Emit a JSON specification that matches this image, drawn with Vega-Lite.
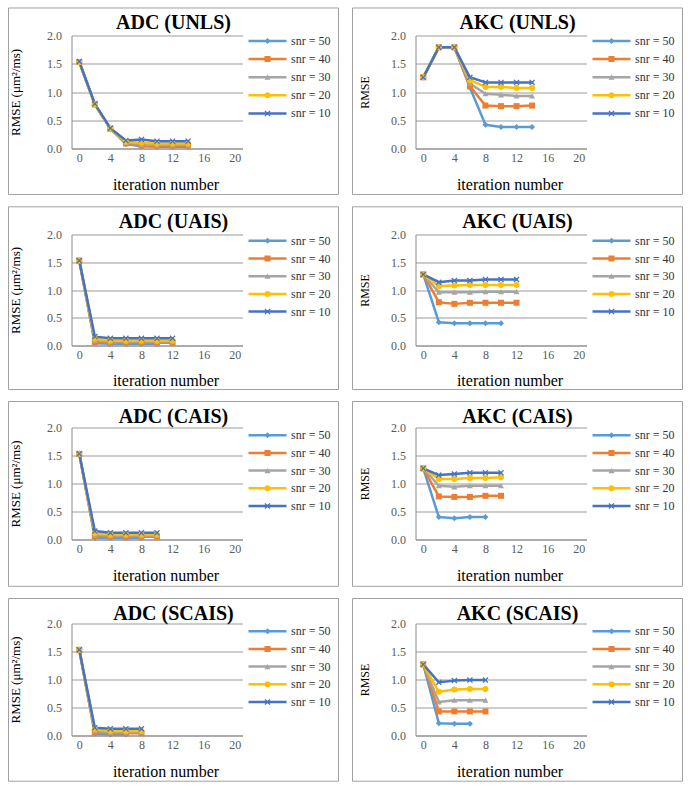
{
"$schema": "https://vega.github.io/schema/vega-lite/v6.json",
"padding": {"left": 7.5, "top": 6.5, "right": 5, "bottom": 5},
"spacing": 10,
"resolve": {"scale": {"color": "independent", "fill": "independent", "shape": "independent", "x": "independent", "y": "independent"}, "legend": {"color": "independent", "fill": "independent", "shape": "independent"}},
"datasets": {"d": [
{"panel":"ADC (UNLS)","snr":"snr = 50","iter":0,"rmse":1.53},{"panel":"ADC (UNLS)","snr":"snr = 50","iter":2,"rmse":0.78},{"panel":"ADC (UNLS)","snr":"snr = 50","iter":4,"rmse":0.35},{"panel":"ADC (UNLS)","snr":"snr = 50","iter":6,"rmse":0.08},{"panel":"ADC (UNLS)","snr":"snr = 50","iter":8,"rmse":0.04},{"panel":"ADC (UNLS)","snr":"snr = 50","iter":10,"rmse":0.03},{"panel":"ADC (UNLS)","snr":"snr = 50","iter":12,"rmse":0.03},{"panel":"ADC (UNLS)","snr":"snr = 50","iter":14,"rmse":0.03},
{"panel":"ADC (UNLS)","snr":"snr = 40","iter":0,"rmse":1.53},{"panel":"ADC (UNLS)","snr":"snr = 40","iter":2,"rmse":0.78},{"panel":"ADC (UNLS)","snr":"snr = 40","iter":4,"rmse":0.35},{"panel":"ADC (UNLS)","snr":"snr = 40","iter":6,"rmse":0.09},{"panel":"ADC (UNLS)","snr":"snr = 40","iter":8,"rmse":0.05},{"panel":"ADC (UNLS)","snr":"snr = 40","iter":10,"rmse":0.05},{"panel":"ADC (UNLS)","snr":"snr = 40","iter":12,"rmse":0.05},{"panel":"ADC (UNLS)","snr":"snr = 40","iter":14,"rmse":0.05},
{"panel":"ADC (UNLS)","snr":"snr = 30","iter":0,"rmse":1.53},{"panel":"ADC (UNLS)","snr":"snr = 30","iter":2,"rmse":0.78},{"panel":"ADC (UNLS)","snr":"snr = 30","iter":4,"rmse":0.35},{"panel":"ADC (UNLS)","snr":"snr = 30","iter":6,"rmse":0.11},{"panel":"ADC (UNLS)","snr":"snr = 30","iter":8,"rmse":0.07},{"panel":"ADC (UNLS)","snr":"snr = 30","iter":10,"rmse":0.06},{"panel":"ADC (UNLS)","snr":"snr = 30","iter":12,"rmse":0.06},{"panel":"ADC (UNLS)","snr":"snr = 30","iter":14,"rmse":0.06},
{"panel":"ADC (UNLS)","snr":"snr = 20","iter":0,"rmse":1.53},{"panel":"ADC (UNLS)","snr":"snr = 20","iter":2,"rmse":0.78},{"panel":"ADC (UNLS)","snr":"snr = 20","iter":4,"rmse":0.35},{"panel":"ADC (UNLS)","snr":"snr = 20","iter":6,"rmse":0.12},{"panel":"ADC (UNLS)","snr":"snr = 20","iter":8,"rmse":0.10},{"panel":"ADC (UNLS)","snr":"snr = 20","iter":10,"rmse":0.09},{"panel":"ADC (UNLS)","snr":"snr = 20","iter":12,"rmse":0.09},{"panel":"ADC (UNLS)","snr":"snr = 20","iter":14,"rmse":0.09},
{"panel":"ADC (UNLS)","snr":"snr = 10","iter":0,"rmse":1.54},{"panel":"ADC (UNLS)","snr":"snr = 10","iter":2,"rmse":0.79},{"panel":"ADC (UNLS)","snr":"snr = 10","iter":4,"rmse":0.36},{"panel":"ADC (UNLS)","snr":"snr = 10","iter":6,"rmse":0.14},{"panel":"ADC (UNLS)","snr":"snr = 10","iter":8,"rmse":0.16},{"panel":"ADC (UNLS)","snr":"snr = 10","iter":10,"rmse":0.13},{"panel":"ADC (UNLS)","snr":"snr = 10","iter":12,"rmse":0.13},{"panel":"ADC (UNLS)","snr":"snr = 10","iter":14,"rmse":0.13},
{"panel":"AKC (UNLS)","snr":"snr = 50","iter":0,"rmse":1.26},{"panel":"AKC (UNLS)","snr":"snr = 50","iter":2,"rmse":1.79},{"panel":"AKC (UNLS)","snr":"snr = 50","iter":4,"rmse":1.79},{"panel":"AKC (UNLS)","snr":"snr = 50","iter":6,"rmse":1.08},{"panel":"AKC (UNLS)","snr":"snr = 50","iter":8,"rmse":0.42},{"panel":"AKC (UNLS)","snr":"snr = 50","iter":10,"rmse":0.38},{"panel":"AKC (UNLS)","snr":"snr = 50","iter":12,"rmse":0.38},{"panel":"AKC (UNLS)","snr":"snr = 50","iter":14,"rmse":0.38},
{"panel":"AKC (UNLS)","snr":"snr = 40","iter":0,"rmse":1.26},{"panel":"AKC (UNLS)","snr":"snr = 40","iter":2,"rmse":1.79},{"panel":"AKC (UNLS)","snr":"snr = 40","iter":4,"rmse":1.79},{"panel":"AKC (UNLS)","snr":"snr = 40","iter":6,"rmse":1.10},{"panel":"AKC (UNLS)","snr":"snr = 40","iter":8,"rmse":0.76},{"panel":"AKC (UNLS)","snr":"snr = 40","iter":10,"rmse":0.75},{"panel":"AKC (UNLS)","snr":"snr = 40","iter":12,"rmse":0.75},{"panel":"AKC (UNLS)","snr":"snr = 40","iter":14,"rmse":0.76},
{"panel":"AKC (UNLS)","snr":"snr = 30","iter":0,"rmse":1.26},{"panel":"AKC (UNLS)","snr":"snr = 30","iter":2,"rmse":1.79},{"panel":"AKC (UNLS)","snr":"snr = 30","iter":4,"rmse":1.79},{"panel":"AKC (UNLS)","snr":"snr = 30","iter":6,"rmse":1.15},{"panel":"AKC (UNLS)","snr":"snr = 30","iter":8,"rmse":0.97},{"panel":"AKC (UNLS)","snr":"snr = 30","iter":10,"rmse":0.95},{"panel":"AKC (UNLS)","snr":"snr = 30","iter":12,"rmse":0.93},{"panel":"AKC (UNLS)","snr":"snr = 30","iter":14,"rmse":0.93},
{"panel":"AKC (UNLS)","snr":"snr = 20","iter":0,"rmse":1.26},{"panel":"AKC (UNLS)","snr":"snr = 20","iter":2,"rmse":1.79},{"panel":"AKC (UNLS)","snr":"snr = 20","iter":4,"rmse":1.79},{"panel":"AKC (UNLS)","snr":"snr = 20","iter":6,"rmse":1.21},{"panel":"AKC (UNLS)","snr":"snr = 20","iter":8,"rmse":1.09},{"panel":"AKC (UNLS)","snr":"snr = 20","iter":10,"rmse":1.09},{"panel":"AKC (UNLS)","snr":"snr = 20","iter":12,"rmse":1.07},{"panel":"AKC (UNLS)","snr":"snr = 20","iter":14,"rmse":1.07},
{"panel":"AKC (UNLS)","snr":"snr = 10","iter":0,"rmse":1.26},{"panel":"AKC (UNLS)","snr":"snr = 10","iter":2,"rmse":1.79},{"panel":"AKC (UNLS)","snr":"snr = 10","iter":4,"rmse":1.79},{"panel":"AKC (UNLS)","snr":"snr = 10","iter":6,"rmse":1.26},{"panel":"AKC (UNLS)","snr":"snr = 10","iter":8,"rmse":1.17},{"panel":"AKC (UNLS)","snr":"snr = 10","iter":10,"rmse":1.17},{"panel":"AKC (UNLS)","snr":"snr = 10","iter":12,"rmse":1.17},{"panel":"AKC (UNLS)","snr":"snr = 10","iter":14,"rmse":1.17},
{"panel":"ADC (UAIS)","snr":"snr = 50","iter":0,"rmse":1.53},{"panel":"ADC (UAIS)","snr":"snr = 50","iter":2,"rmse":0.04},{"panel":"ADC (UAIS)","snr":"snr = 50","iter":4,"rmse":0.03},{"panel":"ADC (UAIS)","snr":"snr = 50","iter":6,"rmse":0.03},{"panel":"ADC (UAIS)","snr":"snr = 50","iter":8,"rmse":0.03},{"panel":"ADC (UAIS)","snr":"snr = 50","iter":10,"rmse":0.03},
{"panel":"ADC (UAIS)","snr":"snr = 40","iter":0,"rmse":1.53},{"panel":"ADC (UAIS)","snr":"snr = 40","iter":2,"rmse":0.06},{"panel":"ADC (UAIS)","snr":"snr = 40","iter":4,"rmse":0.05},{"panel":"ADC (UAIS)","snr":"snr = 40","iter":6,"rmse":0.05},{"panel":"ADC (UAIS)","snr":"snr = 40","iter":8,"rmse":0.05},{"panel":"ADC (UAIS)","snr":"snr = 40","iter":10,"rmse":0.05},{"panel":"ADC (UAIS)","snr":"snr = 40","iter":12,"rmse":0.05},
{"panel":"ADC (UAIS)","snr":"snr = 30","iter":0,"rmse":1.53},{"panel":"ADC (UAIS)","snr":"snr = 30","iter":2,"rmse":0.09},{"panel":"ADC (UAIS)","snr":"snr = 30","iter":4,"rmse":0.07},{"panel":"ADC (UAIS)","snr":"snr = 30","iter":6,"rmse":0.07},{"panel":"ADC (UAIS)","snr":"snr = 30","iter":8,"rmse":0.07},{"panel":"ADC (UAIS)","snr":"snr = 30","iter":10,"rmse":0.07},{"panel":"ADC (UAIS)","snr":"snr = 30","iter":12,"rmse":0.07},
{"panel":"ADC (UAIS)","snr":"snr = 20","iter":0,"rmse":1.53},{"panel":"ADC (UAIS)","snr":"snr = 20","iter":2,"rmse":0.12},{"panel":"ADC (UAIS)","snr":"snr = 20","iter":4,"rmse":0.09},{"panel":"ADC (UAIS)","snr":"snr = 20","iter":6,"rmse":0.09},{"panel":"ADC (UAIS)","snr":"snr = 20","iter":8,"rmse":0.09},{"panel":"ADC (UAIS)","snr":"snr = 20","iter":10,"rmse":0.09},{"panel":"ADC (UAIS)","snr":"snr = 20","iter":12,"rmse":0.09},
{"panel":"ADC (UAIS)","snr":"snr = 10","iter":0,"rmse":1.53},{"panel":"ADC (UAIS)","snr":"snr = 10","iter":2,"rmse":0.16},{"panel":"ADC (UAIS)","snr":"snr = 10","iter":4,"rmse":0.13},{"panel":"ADC (UAIS)","snr":"snr = 10","iter":6,"rmse":0.13},{"panel":"ADC (UAIS)","snr":"snr = 10","iter":8,"rmse":0.13},{"panel":"ADC (UAIS)","snr":"snr = 10","iter":10,"rmse":0.13},{"panel":"ADC (UAIS)","snr":"snr = 10","iter":12,"rmse":0.13},
{"panel":"AKC (UAIS)","snr":"snr = 50","iter":0,"rmse":1.28},{"panel":"AKC (UAIS)","snr":"snr = 50","iter":2,"rmse":0.42},{"panel":"AKC (UAIS)","snr":"snr = 50","iter":4,"rmse":0.40},{"panel":"AKC (UAIS)","snr":"snr = 50","iter":6,"rmse":0.40},{"panel":"AKC (UAIS)","snr":"snr = 50","iter":8,"rmse":0.40},{"panel":"AKC (UAIS)","snr":"snr = 50","iter":10,"rmse":0.40},
{"panel":"AKC (UAIS)","snr":"snr = 40","iter":0,"rmse":1.28},{"panel":"AKC (UAIS)","snr":"snr = 40","iter":2,"rmse":0.78},{"panel":"AKC (UAIS)","snr":"snr = 40","iter":4,"rmse":0.75},{"panel":"AKC (UAIS)","snr":"snr = 40","iter":6,"rmse":0.77},{"panel":"AKC (UAIS)","snr":"snr = 40","iter":8,"rmse":0.77},{"panel":"AKC (UAIS)","snr":"snr = 40","iter":10,"rmse":0.77},{"panel":"AKC (UAIS)","snr":"snr = 40","iter":12,"rmse":0.77},
{"panel":"AKC (UAIS)","snr":"snr = 30","iter":0,"rmse":1.28},{"panel":"AKC (UAIS)","snr":"snr = 30","iter":2,"rmse":0.96},{"panel":"AKC (UAIS)","snr":"snr = 30","iter":4,"rmse":0.96},{"panel":"AKC (UAIS)","snr":"snr = 30","iter":6,"rmse":0.96},{"panel":"AKC (UAIS)","snr":"snr = 30","iter":8,"rmse":0.97},{"panel":"AKC (UAIS)","snr":"snr = 30","iter":10,"rmse":0.97},{"panel":"AKC (UAIS)","snr":"snr = 30","iter":12,"rmse":0.97},
{"panel":"AKC (UAIS)","snr":"snr = 20","iter":0,"rmse":1.28},{"panel":"AKC (UAIS)","snr":"snr = 20","iter":2,"rmse":1.07},{"panel":"AKC (UAIS)","snr":"snr = 20","iter":4,"rmse":1.08},{"panel":"AKC (UAIS)","snr":"snr = 20","iter":6,"rmse":1.09},{"panel":"AKC (UAIS)","snr":"snr = 20","iter":8,"rmse":1.09},{"panel":"AKC (UAIS)","snr":"snr = 20","iter":10,"rmse":1.09},{"panel":"AKC (UAIS)","snr":"snr = 20","iter":12,"rmse":1.09},
{"panel":"AKC (UAIS)","snr":"snr = 10","iter":0,"rmse":1.28},{"panel":"AKC (UAIS)","snr":"snr = 10","iter":2,"rmse":1.14},{"panel":"AKC (UAIS)","snr":"snr = 10","iter":4,"rmse":1.17},{"panel":"AKC (UAIS)","snr":"snr = 10","iter":6,"rmse":1.17},{"panel":"AKC (UAIS)","snr":"snr = 10","iter":8,"rmse":1.19},{"panel":"AKC (UAIS)","snr":"snr = 10","iter":10,"rmse":1.19},{"panel":"AKC (UAIS)","snr":"snr = 10","iter":12,"rmse":1.19},
{"panel":"ADC (CAIS)","snr":"snr = 50","iter":0,"rmse":1.53},{"panel":"ADC (CAIS)","snr":"snr = 50","iter":2,"rmse":0.03},{"panel":"ADC (CAIS)","snr":"snr = 50","iter":4,"rmse":0.03},{"panel":"ADC (CAIS)","snr":"snr = 50","iter":6,"rmse":0.03},{"panel":"ADC (CAIS)","snr":"snr = 50","iter":8,"rmse":0.03},
{"panel":"ADC (CAIS)","snr":"snr = 40","iter":0,"rmse":1.53},{"panel":"ADC (CAIS)","snr":"snr = 40","iter":2,"rmse":0.06},{"panel":"ADC (CAIS)","snr":"snr = 40","iter":4,"rmse":0.05},{"panel":"ADC (CAIS)","snr":"snr = 40","iter":6,"rmse":0.05},{"panel":"ADC (CAIS)","snr":"snr = 40","iter":8,"rmse":0.05},{"panel":"ADC (CAIS)","snr":"snr = 40","iter":10,"rmse":0.05},
{"panel":"ADC (CAIS)","snr":"snr = 30","iter":0,"rmse":1.53},{"panel":"ADC (CAIS)","snr":"snr = 30","iter":2,"rmse":0.08},{"panel":"ADC (CAIS)","snr":"snr = 30","iter":4,"rmse":0.07},{"panel":"ADC (CAIS)","snr":"snr = 30","iter":6,"rmse":0.07},{"panel":"ADC (CAIS)","snr":"snr = 30","iter":8,"rmse":0.07},{"panel":"ADC (CAIS)","snr":"snr = 30","iter":10,"rmse":0.07},
{"panel":"ADC (CAIS)","snr":"snr = 20","iter":0,"rmse":1.53},{"panel":"ADC (CAIS)","snr":"snr = 20","iter":2,"rmse":0.11},{"panel":"ADC (CAIS)","snr":"snr = 20","iter":4,"rmse":0.09},{"panel":"ADC (CAIS)","snr":"snr = 20","iter":6,"rmse":0.09},{"panel":"ADC (CAIS)","snr":"snr = 20","iter":8,"rmse":0.09},{"panel":"ADC (CAIS)","snr":"snr = 20","iter":10,"rmse":0.09},
{"panel":"ADC (CAIS)","snr":"snr = 10","iter":0,"rmse":1.53},{"panel":"ADC (CAIS)","snr":"snr = 10","iter":2,"rmse":0.15},{"panel":"ADC (CAIS)","snr":"snr = 10","iter":4,"rmse":0.12},{"panel":"ADC (CAIS)","snr":"snr = 10","iter":6,"rmse":0.12},{"panel":"ADC (CAIS)","snr":"snr = 10","iter":8,"rmse":0.12},{"panel":"ADC (CAIS)","snr":"snr = 10","iter":10,"rmse":0.12},
{"panel":"AKC (CAIS)","snr":"snr = 50","iter":0,"rmse":1.27},{"panel":"AKC (CAIS)","snr":"snr = 50","iter":2,"rmse":0.40},{"panel":"AKC (CAIS)","snr":"snr = 50","iter":4,"rmse":0.38},{"panel":"AKC (CAIS)","snr":"snr = 50","iter":6,"rmse":0.40},{"panel":"AKC (CAIS)","snr":"snr = 50","iter":8,"rmse":0.40},
{"panel":"AKC (CAIS)","snr":"snr = 40","iter":0,"rmse":1.27},{"panel":"AKC (CAIS)","snr":"snr = 40","iter":2,"rmse":0.77},{"panel":"AKC (CAIS)","snr":"snr = 40","iter":4,"rmse":0.76},{"panel":"AKC (CAIS)","snr":"snr = 40","iter":6,"rmse":0.76},{"panel":"AKC (CAIS)","snr":"snr = 40","iter":8,"rmse":0.78},{"panel":"AKC (CAIS)","snr":"snr = 40","iter":10,"rmse":0.78},
{"panel":"AKC (CAIS)","snr":"snr = 30","iter":0,"rmse":1.27},{"panel":"AKC (CAIS)","snr":"snr = 30","iter":2,"rmse":0.96},{"panel":"AKC (CAIS)","snr":"snr = 30","iter":4,"rmse":0.94},{"panel":"AKC (CAIS)","snr":"snr = 30","iter":6,"rmse":0.96},{"panel":"AKC (CAIS)","snr":"snr = 30","iter":8,"rmse":0.96},{"panel":"AKC (CAIS)","snr":"snr = 30","iter":10,"rmse":0.96},
{"panel":"AKC (CAIS)","snr":"snr = 20","iter":0,"rmse":1.27},{"panel":"AKC (CAIS)","snr":"snr = 20","iter":2,"rmse":1.08},{"panel":"AKC (CAIS)","snr":"snr = 20","iter":4,"rmse":1.08},{"panel":"AKC (CAIS)","snr":"snr = 20","iter":6,"rmse":1.10},{"panel":"AKC (CAIS)","snr":"snr = 20","iter":8,"rmse":1.10},{"panel":"AKC (CAIS)","snr":"snr = 20","iter":10,"rmse":1.11},
{"panel":"AKC (CAIS)","snr":"snr = 10","iter":0,"rmse":1.27},{"panel":"AKC (CAIS)","snr":"snr = 10","iter":2,"rmse":1.15},{"panel":"AKC (CAIS)","snr":"snr = 10","iter":4,"rmse":1.17},{"panel":"AKC (CAIS)","snr":"snr = 10","iter":6,"rmse":1.19},{"panel":"AKC (CAIS)","snr":"snr = 10","iter":8,"rmse":1.19},{"panel":"AKC (CAIS)","snr":"snr = 10","iter":10,"rmse":1.19},
{"panel":"ADC (SCAIS)","snr":"snr = 50","iter":0,"rmse":1.53},{"panel":"ADC (SCAIS)","snr":"snr = 50","iter":2,"rmse":0.03},{"panel":"ADC (SCAIS)","snr":"snr = 50","iter":4,"rmse":0.02},{"panel":"ADC (SCAIS)","snr":"snr = 50","iter":6,"rmse":0.02},
{"panel":"ADC (SCAIS)","snr":"snr = 40","iter":0,"rmse":1.53},{"panel":"ADC (SCAIS)","snr":"snr = 40","iter":2,"rmse":0.05},{"panel":"ADC (SCAIS)","snr":"snr = 40","iter":4,"rmse":0.04},{"panel":"ADC (SCAIS)","snr":"snr = 40","iter":6,"rmse":0.04},{"panel":"ADC (SCAIS)","snr":"snr = 40","iter":8,"rmse":0.04},
{"panel":"ADC (SCAIS)","snr":"snr = 30","iter":0,"rmse":1.53},{"panel":"ADC (SCAIS)","snr":"snr = 30","iter":2,"rmse":0.08},{"panel":"ADC (SCAIS)","snr":"snr = 30","iter":4,"rmse":0.06},{"panel":"ADC (SCAIS)","snr":"snr = 30","iter":6,"rmse":0.06},{"panel":"ADC (SCAIS)","snr":"snr = 30","iter":8,"rmse":0.06},
{"panel":"ADC (SCAIS)","snr":"snr = 20","iter":0,"rmse":1.53},{"panel":"ADC (SCAIS)","snr":"snr = 20","iter":2,"rmse":0.11},{"panel":"ADC (SCAIS)","snr":"snr = 20","iter":4,"rmse":0.08},{"panel":"ADC (SCAIS)","snr":"snr = 20","iter":6,"rmse":0.08},{"panel":"ADC (SCAIS)","snr":"snr = 20","iter":8,"rmse":0.08},
{"panel":"ADC (SCAIS)","snr":"snr = 10","iter":0,"rmse":1.53},{"panel":"ADC (SCAIS)","snr":"snr = 10","iter":2,"rmse":0.14},{"panel":"ADC (SCAIS)","snr":"snr = 10","iter":4,"rmse":0.12},{"panel":"ADC (SCAIS)","snr":"snr = 10","iter":6,"rmse":0.12},{"panel":"ADC (SCAIS)","snr":"snr = 10","iter":8,"rmse":0.12},
{"panel":"AKC (SCAIS)","snr":"snr = 50","iter":0,"rmse":1.27},{"panel":"AKC (SCAIS)","snr":"snr = 50","iter":2,"rmse":0.22},{"panel":"AKC (SCAIS)","snr":"snr = 50","iter":4,"rmse":0.21},{"panel":"AKC (SCAIS)","snr":"snr = 50","iter":6,"rmse":0.21},
{"panel":"AKC (SCAIS)","snr":"snr = 40","iter":0,"rmse":1.27},{"panel":"AKC (SCAIS)","snr":"snr = 40","iter":2,"rmse":0.43},{"panel":"AKC (SCAIS)","snr":"snr = 40","iter":4,"rmse":0.43},{"panel":"AKC (SCAIS)","snr":"snr = 40","iter":6,"rmse":0.43},{"panel":"AKC (SCAIS)","snr":"snr = 40","iter":8,"rmse":0.43},
{"panel":"AKC (SCAIS)","snr":"snr = 30","iter":0,"rmse":1.27},{"panel":"AKC (SCAIS)","snr":"snr = 30","iter":2,"rmse":0.60},{"panel":"AKC (SCAIS)","snr":"snr = 30","iter":4,"rmse":0.63},{"panel":"AKC (SCAIS)","snr":"snr = 30","iter":6,"rmse":0.63},{"panel":"AKC (SCAIS)","snr":"snr = 30","iter":8,"rmse":0.63},
{"panel":"AKC (SCAIS)","snr":"snr = 20","iter":0,"rmse":1.27},{"panel":"AKC (SCAIS)","snr":"snr = 20","iter":2,"rmse":0.78},{"panel":"AKC (SCAIS)","snr":"snr = 20","iter":4,"rmse":0.82},{"panel":"AKC (SCAIS)","snr":"snr = 20","iter":6,"rmse":0.83},{"panel":"AKC (SCAIS)","snr":"snr = 20","iter":8,"rmse":0.83},
{"panel":"AKC (SCAIS)","snr":"snr = 10","iter":0,"rmse":1.27},{"panel":"AKC (SCAIS)","snr":"snr = 10","iter":2,"rmse":0.95},{"panel":"AKC (SCAIS)","snr":"snr = 10","iter":4,"rmse":0.98},{"panel":"AKC (SCAIS)","snr":"snr = 10","iter":6,"rmse":0.99},{"panel":"AKC (SCAIS)","snr":"snr = 10","iter":8,"rmse":0.99}
]},
"vconcat": [
{"spacing": 12, "resolve": {"scale": {"color": "independent", "fill": "independent", "shape": "independent", "x": "independent", "y": "independent"}, "legend": {"color": "independent", "fill": "independent", "shape": "independent"}},
 "hconcat": [
 {"width": 171, "height": 113, "title": {"text": "ADC (UNLS)", "frame": "bounds", "anchor": "middle", "offset": -26},
  "layer": [
   {"data": {"values": [{}]}, "mark": {"type": "rect", "clip": false, "fill": "transparent", "stroke": "#a0a0a0", "strokeWidth": 1},
    "encoding": {"x": {"datum": -9.105, "type": "quantitative", "scale": {"domain": [-1, 21], "nice": false, "zero": false}, "axis": {"title": "iteration number", "values": [0,4,8,12,16,20], "titleX": 94, "titleY": 36}}, "x2": {"datum": 33.35},
     "y": {"datum": 2.487, "type": "quantitative", "scale": {"domain": [0, 2], "nice": false, "zero": false}, "axis": {"title": "RMSE  (μm²/ms)", "values": [0,0.5,1,1.5,2], "titleX": -56, "titleY": 56.5, "titleFontSize": 13}}, "y2": {"datum": -0.814}}},
   {"data": {"name": "d"}, "transform": [{"filter": "datum.panel === 'ADC (UNLS)'"}], "mark": {"type": "line", "strokeWidth": 2.5, "strokeJoin": "round", "strokeCap": "round"},
    "encoding": {"x": {"field": "iter", "type": "quantitative", "scale": {"domain": [-1, 21], "nice": false, "zero": false}, "axis": {"title": "iteration number", "values": [0,4,8,12,16,20], "titleX": 94, "titleY": 36}},
     "y": {"field": "rmse", "type": "quantitative", "scale": {"domain": [0, 2], "nice": false, "zero": false}, "axis": {"title": "RMSE  (μm²/ms)", "values": [0,0.5,1,1.5,2], "titleX": -56, "titleY": 56.5, "titleFontSize": 13}},
     "color": {"field": "snr", "type": "nominal", "scale": {"domain": ["snr = 50","snr = 40","snr = 30","snr = 20","snr = 10"], "range": ["#5B9BD5","#ED7D31","#A5A5A5","#FFC000","#4472C4"]},
      "legend": {"title": null, "orient": "none", "legendX": 175.5, "legendY": -1.5, "clipHeight": 14, "rowPadding": 4.1, "labelOffset": 3, "padding": 0, "symbolType": "stroke", "symbolSize": 1444, "symbolStrokeWidth": 2.5}}}},
   {"data": {"name": "d"}, "transform": [{"filter": "datum.panel === 'ADC (UNLS)'"}, {"calculate": "datum.snr", "as": "marker"}], "mark": {"type": "point", "filled": true, "size": 36, "opacity": 1},
    "encoding": {"x": {"field": "iter", "type": "quantitative", "scale": {"domain": [-1, 21], "nice": false, "zero": false}, "axis": {"title": "iteration number", "values": [0,4,8,12,16,20], "titleX": 94, "titleY": 36}},
     "y": {"field": "rmse", "type": "quantitative", "scale": {"domain": [0, 2], "nice": false, "zero": false}, "axis": {"title": "RMSE  (μm²/ms)", "values": [0,0.5,1,1.5,2], "titleX": -56, "titleY": 56.5, "titleFontSize": 13}},
     "fill": {"field": "marker", "type": "nominal", "sort": "descending", "scale": {"range": ["#5B9BD5","#ED7D31","#A5A5A5","#FFC000","#4472C4"]},
      "legend": {"title": null, "orient": "none", "legendX": 175.5, "legendY": -1.5, "clipHeight": 14, "rowPadding": 4.1, "padding": 0, "symbolSize": 36, "symbolOffset": 14.5, "symbolStrokeWidth": 0, "labelExpr": "''"}},
     "shape": {"field": "marker", "type": "nominal", "sort": "descending", "scale": {"range": ["diamond","square","triangle-up","circle","M-1,-0.7L-0.7,-1L0,-0.3L0.7,-1L1,-0.7L0.3,0L1,0.7L0.7,1L0,0.3L-0.7,1L-1,0.7L-0.3,0Z"]},
      "legend": {"title": null, "orient": "none", "legendX": 175.5, "legendY": -1.5, "clipHeight": 14, "rowPadding": 4.1, "padding": 0, "symbolSize": 36, "symbolOffset": 14.5, "symbolStrokeWidth": 0, "labelExpr": "''"}}}}
  ]},
 {"width": 171, "height": 113, "title": {"text": "AKC (UNLS)", "frame": "bounds", "anchor": "middle", "offset": -26},
  "layer": [
   {"data": {"values": [{}]}, "mark": {"type": "rect", "clip": false, "fill": "transparent", "stroke": "#a0a0a0", "strokeWidth": 1},
    "encoding": {"x": {"datum": -9.105, "type": "quantitative", "scale": {"domain": [-1, 21], "nice": false, "zero": false}, "axis": {"title": "iteration number", "values": [0,4,8,12,16,20], "titleX": 94, "titleY": 36}}, "x2": {"datum": 33.35},
     "y": {"datum": 2.487, "type": "quantitative", "scale": {"domain": [0, 2], "nice": false, "zero": false}, "axis": {"title": "RMSE", "values": [0,0.5,1,1.5,2], "titleX": -51, "titleY": 56.5}}, "y2": {"datum": -0.814}}},
   {"data": {"name": "d"}, "transform": [{"filter": "datum.panel === 'AKC (UNLS)'"}], "mark": {"type": "line", "strokeWidth": 2.5, "strokeJoin": "round", "strokeCap": "round"},
    "encoding": {"x": {"field": "iter", "type": "quantitative", "scale": {"domain": [-1, 21], "nice": false, "zero": false}, "axis": {"title": "iteration number", "values": [0,4,8,12,16,20], "titleX": 94, "titleY": 36}},
     "y": {"field": "rmse", "type": "quantitative", "scale": {"domain": [0, 2], "nice": false, "zero": false}, "axis": {"title": "RMSE", "values": [0,0.5,1,1.5,2], "titleX": -51, "titleY": 56.5}},
     "color": {"field": "snr", "type": "nominal", "scale": {"domain": ["snr = 50","snr = 40","snr = 30","snr = 20","snr = 10"], "range": ["#5B9BD5","#ED7D31","#A5A5A5","#FFC000","#4472C4"]},
      "legend": {"title": null, "orient": "none", "legendX": 175.5, "legendY": -1.5, "clipHeight": 14, "rowPadding": 4.1, "labelOffset": 3, "padding": 0, "symbolType": "stroke", "symbolSize": 1444, "symbolStrokeWidth": 2.5}}}},
   {"data": {"name": "d"}, "transform": [{"filter": "datum.panel === 'AKC (UNLS)'"}, {"calculate": "datum.snr", "as": "marker"}], "mark": {"type": "point", "filled": true, "size": 36, "opacity": 1},
    "encoding": {"x": {"field": "iter", "type": "quantitative", "scale": {"domain": [-1, 21], "nice": false, "zero": false}, "axis": {"title": "iteration number", "values": [0,4,8,12,16,20], "titleX": 94, "titleY": 36}},
     "y": {"field": "rmse", "type": "quantitative", "scale": {"domain": [0, 2], "nice": false, "zero": false}, "axis": {"title": "RMSE", "values": [0,0.5,1,1.5,2], "titleX": -51, "titleY": 56.5}},
     "fill": {"field": "marker", "type": "nominal", "sort": "descending", "scale": {"range": ["#5B9BD5","#ED7D31","#A5A5A5","#FFC000","#4472C4"]},
      "legend": {"title": null, "orient": "none", "legendX": 175.5, "legendY": -1.5, "clipHeight": 14, "rowPadding": 4.1, "padding": 0, "symbolSize": 36, "symbolOffset": 14.5, "symbolStrokeWidth": 0, "labelExpr": "''"}},
     "shape": {"field": "marker", "type": "nominal", "sort": "descending", "scale": {"range": ["diamond","square","triangle-up","circle","M-1,-0.7L-0.7,-1L0,-0.3L0.7,-1L1,-0.7L0.3,0L1,0.7L0.7,1L0,0.3L-0.7,1L-1,0.7L-0.3,0Z"]},
      "legend": {"title": null, "orient": "none", "legendX": 175.5, "legendY": -1.5, "clipHeight": 14, "rowPadding": 4.1, "padding": 0, "symbolSize": 36, "symbolOffset": 14.5, "symbolStrokeWidth": 0, "labelExpr": "''"}}}}
  ]}
 ]},
{"spacing": 12, "resolve": {"scale": {"color": "independent", "fill": "independent", "shape": "independent", "x": "independent", "y": "independent"}, "legend": {"color": "independent", "fill": "independent", "shape": "independent"}},
 "hconcat": [
 {"width": 171, "height": 111, "title": {"text": "ADC (UAIS)", "frame": "bounds", "anchor": "middle", "offset": -26},
  "layer": [
   {"data": {"values": [{}]}, "mark": {"type": "rect", "clip": false, "fill": "transparent", "stroke": "#a0a0a0", "strokeWidth": 1},
    "encoding": {"x": {"datum": -9.105, "type": "quantitative", "scale": {"domain": [-1, 21], "nice": false, "zero": false}, "axis": {"title": "iteration number", "values": [0,4,8,12,16,20], "titleX": 94, "titleY": 35}}, "x2": {"datum": 33.35},
     "y": {"datum": 2.499, "type": "quantitative", "scale": {"domain": [0, 2], "nice": false, "zero": false}, "axis": {"title": "RMSE (μm²/ms)", "values": [0,0.5,1,1.5,2], "titleX": -56, "titleY": 55.5, "titleFontSize": 13}}, "y2": {"datum": -0.793}}},
   {"data": {"name": "d"}, "transform": [{"filter": "datum.panel === 'ADC (UAIS)'"}], "mark": {"type": "line", "strokeWidth": 2.5, "strokeJoin": "round", "strokeCap": "round"},
    "encoding": {"x": {"field": "iter", "type": "quantitative", "scale": {"domain": [-1, 21], "nice": false, "zero": false}, "axis": {"title": "iteration number", "values": [0,4,8,12,16,20], "titleX": 94, "titleY": 35}},
     "y": {"field": "rmse", "type": "quantitative", "scale": {"domain": [0, 2], "nice": false, "zero": false}, "axis": {"title": "RMSE (μm²/ms)", "values": [0,0.5,1,1.5,2], "titleX": -56, "titleY": 55.5, "titleFontSize": 13}},
     "color": {"field": "snr", "type": "nominal", "scale": {"domain": ["snr = 50","snr = 40","snr = 30","snr = 20","snr = 10"], "range": ["#5B9BD5","#ED7D31","#A5A5A5","#FFC000","#4472C4"]},
      "legend": {"title": null, "orient": "none", "legendX": 175.5, "legendY": -0.7, "clipHeight": 14, "rowPadding": 3.7, "labelOffset": 3, "padding": 0, "symbolType": "stroke", "symbolSize": 1444, "symbolStrokeWidth": 2.5}}}},
   {"data": {"name": "d"}, "transform": [{"filter": "datum.panel === 'ADC (UAIS)'"}, {"calculate": "datum.snr", "as": "marker"}], "mark": {"type": "point", "filled": true, "size": 36, "opacity": 1},
    "encoding": {"x": {"field": "iter", "type": "quantitative", "scale": {"domain": [-1, 21], "nice": false, "zero": false}, "axis": {"title": "iteration number", "values": [0,4,8,12,16,20], "titleX": 94, "titleY": 35}},
     "y": {"field": "rmse", "type": "quantitative", "scale": {"domain": [0, 2], "nice": false, "zero": false}, "axis": {"title": "RMSE (μm²/ms)", "values": [0,0.5,1,1.5,2], "titleX": -56, "titleY": 55.5, "titleFontSize": 13}},
     "fill": {"field": "marker", "type": "nominal", "sort": "descending", "scale": {"range": ["#5B9BD5","#ED7D31","#A5A5A5","#FFC000","#4472C4"]},
      "legend": {"title": null, "orient": "none", "legendX": 175.5, "legendY": -0.7, "clipHeight": 14, "rowPadding": 3.7, "padding": 0, "symbolSize": 36, "symbolOffset": 14.5, "symbolStrokeWidth": 0, "labelExpr": "''"}},
     "shape": {"field": "marker", "type": "nominal", "sort": "descending", "scale": {"range": ["diamond","square","triangle-up","circle","M-1,-0.7L-0.7,-1L0,-0.3L0.7,-1L1,-0.7L0.3,0L1,0.7L0.7,1L0,0.3L-0.7,1L-1,0.7L-0.3,0Z"]},
      "legend": {"title": null, "orient": "none", "legendX": 175.5, "legendY": -0.7, "clipHeight": 14, "rowPadding": 3.7, "padding": 0, "symbolSize": 36, "symbolOffset": 14.5, "symbolStrokeWidth": 0, "labelExpr": "''"}}}}
  ]},
 {"width": 171, "height": 111, "title": {"text": "AKC (UAIS)", "frame": "bounds", "anchor": "middle", "offset": -26},
  "layer": [
   {"data": {"values": [{}]}, "mark": {"type": "rect", "clip": false, "fill": "transparent", "stroke": "#a0a0a0", "strokeWidth": 1},
    "encoding": {"x": {"datum": -9.105, "type": "quantitative", "scale": {"domain": [-1, 21], "nice": false, "zero": false}, "axis": {"title": "iteration number", "values": [0,4,8,12,16,20], "titleX": 94, "titleY": 35}}, "x2": {"datum": 33.35},
     "y": {"datum": 2.499, "type": "quantitative", "scale": {"domain": [0, 2], "nice": false, "zero": false}, "axis": {"title": "RMSE", "values": [0,0.5,1,1.5,2], "titleX": -51, "titleY": 55.5}}, "y2": {"datum": -0.793}}},
   {"data": {"name": "d"}, "transform": [{"filter": "datum.panel === 'AKC (UAIS)'"}], "mark": {"type": "line", "strokeWidth": 2.5, "strokeJoin": "round", "strokeCap": "round"},
    "encoding": {"x": {"field": "iter", "type": "quantitative", "scale": {"domain": [-1, 21], "nice": false, "zero": false}, "axis": {"title": "iteration number", "values": [0,4,8,12,16,20], "titleX": 94, "titleY": 35}},
     "y": {"field": "rmse", "type": "quantitative", "scale": {"domain": [0, 2], "nice": false, "zero": false}, "axis": {"title": "RMSE", "values": [0,0.5,1,1.5,2], "titleX": -51, "titleY": 55.5}},
     "color": {"field": "snr", "type": "nominal", "scale": {"domain": ["snr = 50","snr = 40","snr = 30","snr = 20","snr = 10"], "range": ["#5B9BD5","#ED7D31","#A5A5A5","#FFC000","#4472C4"]},
      "legend": {"title": null, "orient": "none", "legendX": 175.5, "legendY": -0.7, "clipHeight": 14, "rowPadding": 3.7, "labelOffset": 3, "padding": 0, "symbolType": "stroke", "symbolSize": 1444, "symbolStrokeWidth": 2.5}}}},
   {"data": {"name": "d"}, "transform": [{"filter": "datum.panel === 'AKC (UAIS)'"}, {"calculate": "datum.snr", "as": "marker"}], "mark": {"type": "point", "filled": true, "size": 36, "opacity": 1},
    "encoding": {"x": {"field": "iter", "type": "quantitative", "scale": {"domain": [-1, 21], "nice": false, "zero": false}, "axis": {"title": "iteration number", "values": [0,4,8,12,16,20], "titleX": 94, "titleY": 35}},
     "y": {"field": "rmse", "type": "quantitative", "scale": {"domain": [0, 2], "nice": false, "zero": false}, "axis": {"title": "RMSE", "values": [0,0.5,1,1.5,2], "titleX": -51, "titleY": 55.5}},
     "fill": {"field": "marker", "type": "nominal", "sort": "descending", "scale": {"range": ["#5B9BD5","#ED7D31","#A5A5A5","#FFC000","#4472C4"]},
      "legend": {"title": null, "orient": "none", "legendX": 175.5, "legendY": -0.7, "clipHeight": 14, "rowPadding": 3.7, "padding": 0, "symbolSize": 36, "symbolOffset": 14.5, "symbolStrokeWidth": 0, "labelExpr": "''"}},
     "shape": {"field": "marker", "type": "nominal", "sort": "descending", "scale": {"range": ["diamond","square","triangle-up","circle","M-1,-0.7L-0.7,-1L0,-0.3L0.7,-1L1,-0.7L0.3,0L1,0.7L0.7,1L0,0.3L-0.7,1L-1,0.7L-0.3,0Z"]},
      "legend": {"title": null, "orient": "none", "legendX": 175.5, "legendY": -0.7, "clipHeight": 14, "rowPadding": 3.7, "padding": 0, "symbolSize": 36, "symbolOffset": 14.5, "symbolStrokeWidth": 0, "labelExpr": "''"}}}}
  ]}
 ]},
{"spacing": 12, "resolve": {"scale": {"color": "independent", "fill": "independent", "shape": "independent", "x": "independent", "y": "independent"}, "legend": {"color": "independent", "fill": "independent", "shape": "independent"}},
 "hconcat": [
 {"width": 171, "height": 112, "title": {"text": "ADC (CAIS)", "frame": "bounds", "anchor": "middle", "offset": -26},
  "layer": [
   {"data": {"values": [{}]}, "mark": {"type": "rect", "clip": false, "fill": "transparent", "stroke": "#a0a0a0", "strokeWidth": 1},
    "encoding": {"x": {"datum": -9.105, "type": "quantitative", "scale": {"domain": [-1, 21], "nice": false, "zero": false}, "axis": {"title": "iteration number", "values": [0,4,8,12,16,20], "titleX": 94, "titleY": 36}}, "x2": {"datum": 33.35},
     "y": {"datum": 2.464, "type": "quantitative", "scale": {"domain": [0, 2], "nice": false, "zero": false}, "axis": {"title": "RMSE  (μm²/ms)", "values": [0,0.5,1,1.5,2], "titleX": -56, "titleY": 56, "titleFontSize": 13}}, "y2": {"datum": -0.836}}},
   {"data": {"name": "d"}, "transform": [{"filter": "datum.panel === 'ADC (CAIS)'"}], "mark": {"type": "line", "strokeWidth": 2.5, "strokeJoin": "round", "strokeCap": "round"},
    "encoding": {"x": {"field": "iter", "type": "quantitative", "scale": {"domain": [-1, 21], "nice": false, "zero": false}, "axis": {"title": "iteration number", "values": [0,4,8,12,16,20], "titleX": 94, "titleY": 36}},
     "y": {"field": "rmse", "type": "quantitative", "scale": {"domain": [0, 2], "nice": false, "zero": false}, "axis": {"title": "RMSE  (μm²/ms)", "values": [0,0.5,1,1.5,2], "titleX": -56, "titleY": 56, "titleFontSize": 13}},
     "color": {"field": "snr", "type": "nominal", "scale": {"domain": ["snr = 50","snr = 40","snr = 30","snr = 20","snr = 10"], "range": ["#5B9BD5","#ED7D31","#A5A5A5","#FFC000","#4472C4"]},
      "legend": {"title": null, "orient": "none", "legendX": 175.5, "legendY": 0.7, "clipHeight": 14, "rowPadding": 3.7, "labelOffset": 3, "padding": 0, "symbolType": "stroke", "symbolSize": 1444, "symbolStrokeWidth": 2.5}}}},
   {"data": {"name": "d"}, "transform": [{"filter": "datum.panel === 'ADC (CAIS)'"}, {"calculate": "datum.snr", "as": "marker"}], "mark": {"type": "point", "filled": true, "size": 36, "opacity": 1},
    "encoding": {"x": {"field": "iter", "type": "quantitative", "scale": {"domain": [-1, 21], "nice": false, "zero": false}, "axis": {"title": "iteration number", "values": [0,4,8,12,16,20], "titleX": 94, "titleY": 36}},
     "y": {"field": "rmse", "type": "quantitative", "scale": {"domain": [0, 2], "nice": false, "zero": false}, "axis": {"title": "RMSE  (μm²/ms)", "values": [0,0.5,1,1.5,2], "titleX": -56, "titleY": 56, "titleFontSize": 13}},
     "fill": {"field": "marker", "type": "nominal", "sort": "descending", "scale": {"range": ["#5B9BD5","#ED7D31","#A5A5A5","#FFC000","#4472C4"]},
      "legend": {"title": null, "orient": "none", "legendX": 175.5, "legendY": 0.7, "clipHeight": 14, "rowPadding": 3.7, "padding": 0, "symbolSize": 36, "symbolOffset": 14.5, "symbolStrokeWidth": 0, "labelExpr": "''"}},
     "shape": {"field": "marker", "type": "nominal", "sort": "descending", "scale": {"range": ["diamond","square","triangle-up","circle","M-1,-0.7L-0.7,-1L0,-0.3L0.7,-1L1,-0.7L0.3,0L1,0.7L0.7,1L0,0.3L-0.7,1L-1,0.7L-0.3,0Z"]},
      "legend": {"title": null, "orient": "none", "legendX": 175.5, "legendY": 0.7, "clipHeight": 14, "rowPadding": 3.7, "padding": 0, "symbolSize": 36, "symbolOffset": 14.5, "symbolStrokeWidth": 0, "labelExpr": "''"}}}}
  ]},
 {"width": 171, "height": 112, "title": {"text": "AKC (CAIS)", "frame": "bounds", "anchor": "middle", "offset": -26},
  "layer": [
   {"data": {"values": [{}]}, "mark": {"type": "rect", "clip": false, "fill": "transparent", "stroke": "#a0a0a0", "strokeWidth": 1},
    "encoding": {"x": {"datum": -9.105, "type": "quantitative", "scale": {"domain": [-1, 21], "nice": false, "zero": false}, "axis": {"title": "iteration number", "values": [0,4,8,12,16,20], "titleX": 94, "titleY": 36}}, "x2": {"datum": 33.35},
     "y": {"datum": 2.464, "type": "quantitative", "scale": {"domain": [0, 2], "nice": false, "zero": false}, "axis": {"title": "RMSE", "values": [0,0.5,1,1.5,2], "titleX": -51, "titleY": 56}}, "y2": {"datum": -0.836}}},
   {"data": {"name": "d"}, "transform": [{"filter": "datum.panel === 'AKC (CAIS)'"}], "mark": {"type": "line", "strokeWidth": 2.5, "strokeJoin": "round", "strokeCap": "round"},
    "encoding": {"x": {"field": "iter", "type": "quantitative", "scale": {"domain": [-1, 21], "nice": false, "zero": false}, "axis": {"title": "iteration number", "values": [0,4,8,12,16,20], "titleX": 94, "titleY": 36}},
     "y": {"field": "rmse", "type": "quantitative", "scale": {"domain": [0, 2], "nice": false, "zero": false}, "axis": {"title": "RMSE", "values": [0,0.5,1,1.5,2], "titleX": -51, "titleY": 56}},
     "color": {"field": "snr", "type": "nominal", "scale": {"domain": ["snr = 50","snr = 40","snr = 30","snr = 20","snr = 10"], "range": ["#5B9BD5","#ED7D31","#A5A5A5","#FFC000","#4472C4"]},
      "legend": {"title": null, "orient": "none", "legendX": 175.5, "legendY": 0.7, "clipHeight": 14, "rowPadding": 3.7, "labelOffset": 3, "padding": 0, "symbolType": "stroke", "symbolSize": 1444, "symbolStrokeWidth": 2.5}}}},
   {"data": {"name": "d"}, "transform": [{"filter": "datum.panel === 'AKC (CAIS)'"}, {"calculate": "datum.snr", "as": "marker"}], "mark": {"type": "point", "filled": true, "size": 36, "opacity": 1},
    "encoding": {"x": {"field": "iter", "type": "quantitative", "scale": {"domain": [-1, 21], "nice": false, "zero": false}, "axis": {"title": "iteration number", "values": [0,4,8,12,16,20], "titleX": 94, "titleY": 36}},
     "y": {"field": "rmse", "type": "quantitative", "scale": {"domain": [0, 2], "nice": false, "zero": false}, "axis": {"title": "RMSE", "values": [0,0.5,1,1.5,2], "titleX": -51, "titleY": 56}},
     "fill": {"field": "marker", "type": "nominal", "sort": "descending", "scale": {"range": ["#5B9BD5","#ED7D31","#A5A5A5","#FFC000","#4472C4"]},
      "legend": {"title": null, "orient": "none", "legendX": 175.5, "legendY": 0.7, "clipHeight": 14, "rowPadding": 3.7, "padding": 0, "symbolSize": 36, "symbolOffset": 14.5, "symbolStrokeWidth": 0, "labelExpr": "''"}},
     "shape": {"field": "marker", "type": "nominal", "sort": "descending", "scale": {"range": ["diamond","square","triangle-up","circle","M-1,-0.7L-0.7,-1L0,-0.3L0.7,-1L1,-0.7L0.3,0L1,0.7L0.7,1L0,0.3L-0.7,1L-1,0.7L-0.3,0Z"]},
      "legend": {"title": null, "orient": "none", "legendX": 175.5, "legendY": 0.7, "clipHeight": 14, "rowPadding": 3.7, "padding": 0, "symbolSize": 36, "symbolOffset": 14.5, "symbolStrokeWidth": 0, "labelExpr": "''"}}}}
  ]}
 ]},
{"spacing": 12, "resolve": {"scale": {"color": "independent", "fill": "independent", "shape": "independent", "x": "independent", "y": "independent"}, "legend": {"color": "independent", "fill": "independent", "shape": "independent"}},
 "hconcat": [
 {"width": 171, "height": 112, "title": {"text": "ADC (SCAIS)", "frame": "bounds", "anchor": "middle", "offset": -26},
  "layer": [
   {"data": {"values": [{}]}, "mark": {"type": "rect", "clip": false, "fill": "transparent", "stroke": "#a0a0a0", "strokeWidth": 1},
    "encoding": {"x": {"datum": -9.105, "type": "quantitative", "scale": {"domain": [-1, 21], "nice": false, "zero": false}, "axis": {"title": "iteration number", "values": [0,4,8,12,16,20], "titleX": 94, "titleY": 35.5}}, "x2": {"datum": 33.35},
     "y": {"datum": 2.446, "type": "quantitative", "scale": {"domain": [0, 2], "nice": false, "zero": false}, "axis": {"title": "RMSE  (μm²/ms)", "values": [0,0.5,1,1.5,2], "titleX": -56, "titleY": 56, "titleFontSize": 13}}, "y2": {"datum": -0.816}}},
   {"data": {"name": "d"}, "transform": [{"filter": "datum.panel === 'ADC (SCAIS)'"}], "mark": {"type": "line", "strokeWidth": 2.5, "strokeJoin": "round", "strokeCap": "round"},
    "encoding": {"x": {"field": "iter", "type": "quantitative", "scale": {"domain": [-1, 21], "nice": false, "zero": false}, "axis": {"title": "iteration number", "values": [0,4,8,12,16,20], "titleX": 94, "titleY": 35.5}},
     "y": {"field": "rmse", "type": "quantitative", "scale": {"domain": [0, 2], "nice": false, "zero": false}, "axis": {"title": "RMSE  (μm²/ms)", "values": [0,0.5,1,1.5,2], "titleX": -56, "titleY": 56, "titleFontSize": 13}},
     "color": {"field": "snr", "type": "nominal", "scale": {"domain": ["snr = 50","snr = 40","snr = 30","snr = 20","snr = 10"], "range": ["#5B9BD5","#ED7D31","#A5A5A5","#FFC000","#4472C4"]},
      "legend": {"title": null, "orient": "none", "legendX": 175.5, "legendY": 0.7, "clipHeight": 14, "rowPadding": 3.7, "labelOffset": 3, "padding": 0, "symbolType": "stroke", "symbolSize": 1444, "symbolStrokeWidth": 2.5}}}},
   {"data": {"name": "d"}, "transform": [{"filter": "datum.panel === 'ADC (SCAIS)'"}, {"calculate": "datum.snr", "as": "marker"}], "mark": {"type": "point", "filled": true, "size": 36, "opacity": 1},
    "encoding": {"x": {"field": "iter", "type": "quantitative", "scale": {"domain": [-1, 21], "nice": false, "zero": false}, "axis": {"title": "iteration number", "values": [0,4,8,12,16,20], "titleX": 94, "titleY": 35.5}},
     "y": {"field": "rmse", "type": "quantitative", "scale": {"domain": [0, 2], "nice": false, "zero": false}, "axis": {"title": "RMSE  (μm²/ms)", "values": [0,0.5,1,1.5,2], "titleX": -56, "titleY": 56, "titleFontSize": 13}},
     "fill": {"field": "marker", "type": "nominal", "sort": "descending", "scale": {"range": ["#5B9BD5","#ED7D31","#A5A5A5","#FFC000","#4472C4"]},
      "legend": {"title": null, "orient": "none", "legendX": 175.5, "legendY": 0.7, "clipHeight": 14, "rowPadding": 3.7, "padding": 0, "symbolSize": 36, "symbolOffset": 14.5, "symbolStrokeWidth": 0, "labelExpr": "''"}},
     "shape": {"field": "marker", "type": "nominal", "sort": "descending", "scale": {"range": ["diamond","square","triangle-up","circle","M-1,-0.7L-0.7,-1L0,-0.3L0.7,-1L1,-0.7L0.3,0L1,0.7L0.7,1L0,0.3L-0.7,1L-1,0.7L-0.3,0Z"]},
      "legend": {"title": null, "orient": "none", "legendX": 175.5, "legendY": 0.7, "clipHeight": 14, "rowPadding": 3.7, "padding": 0, "symbolSize": 36, "symbolOffset": 14.5, "symbolStrokeWidth": 0, "labelExpr": "''"}}}}
  ]},
 {"width": 171, "height": 112, "title": {"text": "AKC (SCAIS)", "frame": "bounds", "anchor": "middle", "offset": -26},
  "layer": [
   {"data": {"values": [{}]}, "mark": {"type": "rect", "clip": false, "fill": "transparent", "stroke": "#a0a0a0", "strokeWidth": 1},
    "encoding": {"x": {"datum": -9.105, "type": "quantitative", "scale": {"domain": [-1, 21], "nice": false, "zero": false}, "axis": {"title": "iteration number", "values": [0,4,8,12,16,20], "titleX": 94, "titleY": 35.5}}, "x2": {"datum": 33.35},
     "y": {"datum": 2.446, "type": "quantitative", "scale": {"domain": [0, 2], "nice": false, "zero": false}, "axis": {"title": "RMSE", "values": [0,0.5,1,1.5,2], "titleX": -51, "titleY": 56}}, "y2": {"datum": -0.816}}},
   {"data": {"name": "d"}, "transform": [{"filter": "datum.panel === 'AKC (SCAIS)'"}], "mark": {"type": "line", "strokeWidth": 2.5, "strokeJoin": "round", "strokeCap": "round"},
    "encoding": {"x": {"field": "iter", "type": "quantitative", "scale": {"domain": [-1, 21], "nice": false, "zero": false}, "axis": {"title": "iteration number", "values": [0,4,8,12,16,20], "titleX": 94, "titleY": 35.5}},
     "y": {"field": "rmse", "type": "quantitative", "scale": {"domain": [0, 2], "nice": false, "zero": false}, "axis": {"title": "RMSE", "values": [0,0.5,1,1.5,2], "titleX": -51, "titleY": 56}},
     "color": {"field": "snr", "type": "nominal", "scale": {"domain": ["snr = 50","snr = 40","snr = 30","snr = 20","snr = 10"], "range": ["#5B9BD5","#ED7D31","#A5A5A5","#FFC000","#4472C4"]},
      "legend": {"title": null, "orient": "none", "legendX": 175.5, "legendY": 0.7, "clipHeight": 14, "rowPadding": 3.7, "labelOffset": 3, "padding": 0, "symbolType": "stroke", "symbolSize": 1444, "symbolStrokeWidth": 2.5}}}},
   {"data": {"name": "d"}, "transform": [{"filter": "datum.panel === 'AKC (SCAIS)'"}, {"calculate": "datum.snr", "as": "marker"}], "mark": {"type": "point", "filled": true, "size": 36, "opacity": 1},
    "encoding": {"x": {"field": "iter", "type": "quantitative", "scale": {"domain": [-1, 21], "nice": false, "zero": false}, "axis": {"title": "iteration number", "values": [0,4,8,12,16,20], "titleX": 94, "titleY": 35.5}},
     "y": {"field": "rmse", "type": "quantitative", "scale": {"domain": [0, 2], "nice": false, "zero": false}, "axis": {"title": "RMSE", "values": [0,0.5,1,1.5,2], "titleX": -51, "titleY": 56}},
     "fill": {"field": "marker", "type": "nominal", "sort": "descending", "scale": {"range": ["#5B9BD5","#ED7D31","#A5A5A5","#FFC000","#4472C4"]},
      "legend": {"title": null, "orient": "none", "legendX": 175.5, "legendY": 0.7, "clipHeight": 14, "rowPadding": 3.7, "padding": 0, "symbolSize": 36, "symbolOffset": 14.5, "symbolStrokeWidth": 0, "labelExpr": "''"}},
     "shape": {"field": "marker", "type": "nominal", "sort": "descending", "scale": {"range": ["diamond","square","triangle-up","circle","M-1,-0.7L-0.7,-1L0,-0.3L0.7,-1L1,-0.7L0.3,0L1,0.7L0.7,1L0,0.3L-0.7,1L-1,0.7L-0.3,0Z"]},
      "legend": {"title": null, "orient": "none", "legendX": 175.5, "legendY": 0.7, "clipHeight": 14, "rowPadding": 3.7, "padding": 0, "symbolSize": 36, "symbolOffset": 14.5, "symbolStrokeWidth": 0, "labelExpr": "''"}}}}
  ]}
 ]}
],
"config": {
 "background": "#ffffff",
 "view": {"stroke": null},
 "font": "Liberation Serif",
 "title": {"font": "Liberation Serif", "fontSize": 20, "fontWeight": "bold", "color": "#000000"},
 "axis": {"labelFont": "Liberation Serif", "labelFontSize": 12, "labelColor": "#595959", "titleFont": "Liberation Serif", "titleColor": "#000000", "titleFontWeight": "normal", "ticks": false, "domainColor": "#8c8c8c", "gridColor": "#9a9a9a", "titleAlign": "center", "titleBaseline": "middle"},
 "axisX": {"grid": false, "labelPadding": 4, "titleFontSize": 16, "labelFlush": false},
 "axisY": {"grid": true, "format": ".1f", "labelPadding": 10, "titleFontSize": 12, "titleAngle": 270},
 "legend": {"labelFont": "Liberation Serif", "labelFontSize": 12, "labelColor": "#333333"}
}
}
